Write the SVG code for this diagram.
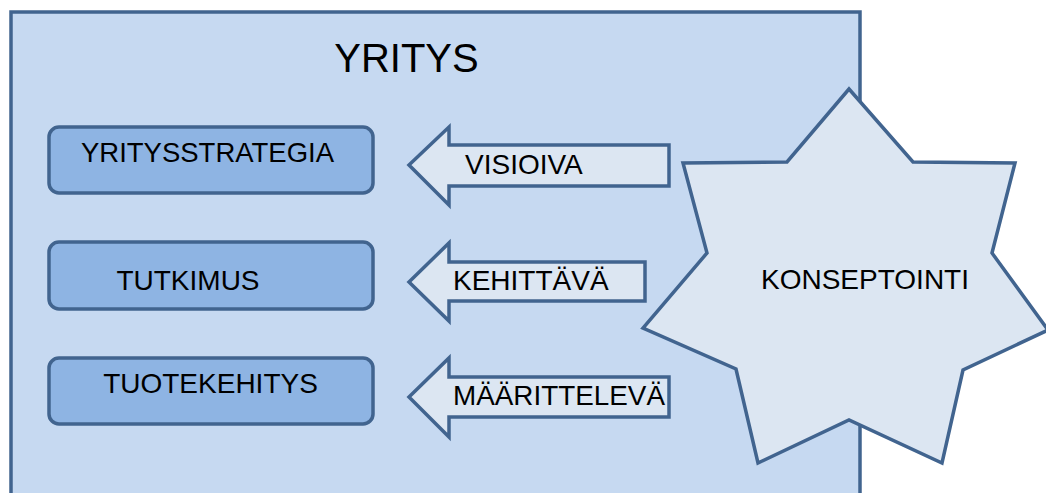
<svg xmlns="http://www.w3.org/2000/svg" width="1046" height="493" viewBox="0 0 1046 493">
<style>
.lbl{font-family:"Liberation Sans",Arial,sans-serif;fill:#000;font-size:28px;}
.box{fill:#8eb4e3;stroke:#41648f;stroke-width:3.5;}
.arr{fill:#dce6f2;stroke:#41648f;stroke-width:3.5;stroke-linejoin:miter;}
</style>
<rect width="1046" height="493" fill="#ffffff"/>
<g id="yritys">
<rect x="11" y="12" width="849" height="500" fill="#c6d9f1" stroke="#41648f" stroke-width="3.5"/>
<text class="lbl" x="406.5" y="72" style="font-size:40px" text-anchor="middle">YRITYS</text>
</g>
<g id="yritysstrategia">
<rect class="box" x="49" y="127" width="324" height="66" rx="10"/>
<text class="lbl" x="207.5" y="162" text-anchor="middle" textLength="253" lengthAdjust="spacingAndGlyphs">YRITYSSTRATEGIA</text>
</g>
<g id="tutkimus">
<rect class="box" x="49" y="242" width="324" height="67" rx="10"/>
<text class="lbl" x="188" y="290" text-anchor="middle">TUTKIMUS</text>
</g>
<g id="tuotekehitys">
<rect class="box" x="49" y="358" width="324" height="66" rx="10"/>
<text class="lbl" x="210.5" y="393" text-anchor="middle">TUOTEKEHITYS</text>
</g>
<g id="connectors">
<g id="arrow-visioiva">
<polygon class="arr" points="409,165 449,127 449,145 669,145 669,186 449,186 449,205"/>
<text class="lbl" x="465" y="174">VISIOIVA</text>
</g>
<g id="arrow-kehittava">
<polygon class="arr" points="409,282 449,243 449,262 645,262 645,301 449,301 449,321"/>
<text class="lbl" x="453" y="290">KEHITTÄVÄ</text>
</g>
<g id="arrow-maaritteleva">
<polygon class="arr" points="409,397 449,358 449,377 669,377 669,417 449,417 449,437"/>
<text class="lbl" x="453" y="405" textLength="212" lengthAdjust="spacingAndGlyphs">MÄÄRITTELEVÄ</text>
</g>
</g>
<g id="konseptointi">
<polygon points="849,89 913,162 1015,163 992,253 1048,330 963,370 942,463 849,420 758,463 736,369 643,328 707,253 683,163 787,162" fill="#dce6f2" stroke="#41648f" stroke-width="3.5" stroke-linejoin="miter"/>
<text class="lbl" x="865" y="289" text-anchor="middle">KONSEPTOINTI</text>
</g>
</svg>
